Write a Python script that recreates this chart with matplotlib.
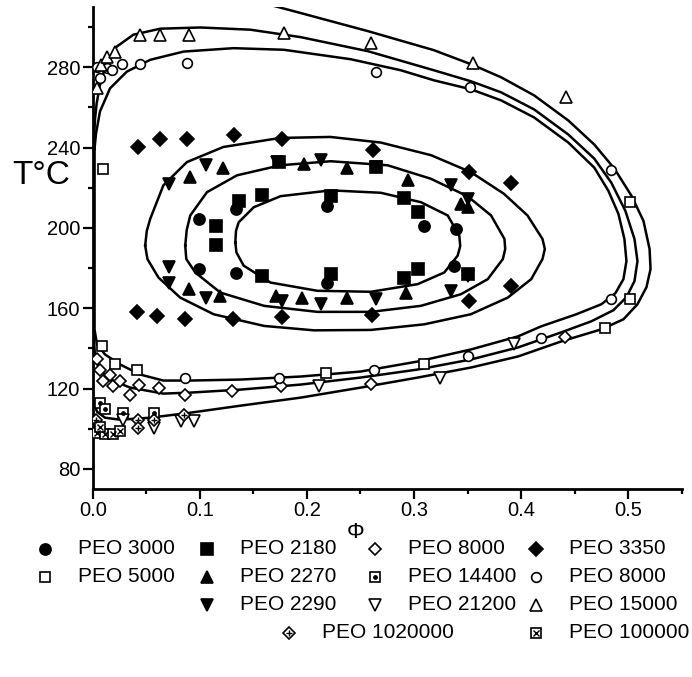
import matplotlib
matplotlib.use("Agg")
import matplotlib.pyplot as plt
from matplotlib.ticker import MultipleLocator, FormatStrFormatter

plt.rcParams['font.family'] = ['Liberation Sans', 'DejaVu Sans']

# ---------------- data (Phi, T in deg C) ----------------
peo3000_phi = [0.219, 0.3096, 0.0989, 0.0989, 0.134, 0.134, 0.219, 0.3392, 0.3377]
peo3000_T   = [210.8, 201.2, 204.5, 179.5, 209.5, 177.8, 172.8, 199.5, 181.2]

peo2180_phi = [0.2222, 0.1582, 0.1363, 0.1154, 0.1154, 0.1582, 0.2222, 0.2909, 0.3034, 0.2909, 0.3034, 0.1738, 0.2644, 0.3502]
peo2180_T   = [215.8, 216.5, 213.2, 201.2, 191.5, 176.2, 177.0, 214.8, 207.8, 175.3, 179.5, 232.8, 230.3, 177.0]

peo2270_phi = [0.0911, 0.1217, 0.1972, 0.2378, 0.294, 0.3439, 0.0895, 0.1192, 0.1707, 0.1957, 0.2378, 0.2924, 0.3502]
peo2270_T   = [225.3, 229.8, 232.0, 229.8, 223.7, 212.0, 169.8, 166.2, 166.2, 165.3, 165.3, 167.8, 210.5]

peo2290_phi = [0.0717, 0.1061, 0.1723, 0.2128, 0.2644, 0.3345, 0.3502, 0.0717, 0.0717, 0.1061, 0.177, 0.2128, 0.2644, 0.3345, 0.3502]
peo2290_T   = [222.0, 231.2, 232.8, 233.7, 230.3, 221.2, 214.5, 180.3, 172.8, 165.3, 163.7, 162.0, 164.5, 168.7, 176.2]

peo3350_phi = [0.0427, 0.0624, 0.088, 0.1323, 0.177, 0.2622, 0.3517, 0.3907,
               0.0418, 0.06, 0.0864, 0.1311, 0.177, 0.2612, 0.3517, 0.3907]
peo3350_T   = [240.3, 244.5, 244.5, 246.2, 244.2, 238.7, 227.8, 222.5,
               158.2, 156.2, 154.8, 154.8, 155.8, 156.5, 163.7, 171.2]

peo5000_phi = [0.0097, 0.0084, 0.0209, 0.0412, 0.2175, 0.3096, 0.478, 0.5015, 0.5015]
peo5000_T   = [229.5, 141.0, 132.0, 129.5, 127.8, 132.0, 150.3, 164.5, 212.8]

peo8000d_phi = [0.0037, 0.0068, 0.0162, 0.010, 0.0193, 0.0256, 0.035, 0.043, 0.0615, 0.0864, 0.130, 0.1755, 0.260, 0.4406]
peo8000d_T   = [134.5, 129.5, 127.0, 123.7, 121.2, 123.7, 117.0, 122.0, 120.3, 117.0, 118.7, 121.2, 122.5, 145.8]

peo14400_phi = [0.0068, 0.0115, 0.0287, 0.0568]
peo14400_T   = [112.8, 110.0, 107.8, 107.8]

peo21200_phi = [0.0287, 0.0568, 0.0824, 0.0949, 0.211, 0.3246, 0.3938]
peo21200_T   = [104.5, 100.3, 103.7, 103.7, 121.2, 125.3, 142.0]

peo1020000_phi = [0.003, 0.0424, 0.0424, 0.0568, 0.0849]
peo1020000_T   = [104.5, 104.5, 100.3, 104.5, 107.0]

peo8000o_phi = [0.004, 0.0068, 0.0131, 0.0178, 0.0272, 0.0443, 0.088, 0.2643, 0.3526, 0.4844,
                0.4844, 0.4188, 0.3502, 0.2627, 0.1738, 0.0864]
peo8000o_T   = [280.0, 274.5, 279.5, 278.7, 281.5, 281.5, 282.0, 277.8, 270.3, 228.7,
                164.5, 145.3, 136.2, 129.5, 125.3, 125.3]

peo15000_phi = [0.0037, 0.008, 0.0131, 0.0209, 0.0443, 0.063, 0.0895, 0.1785, 0.2596, 0.3549, 0.4422]
peo15000_T   = [269.5, 281.0, 285.0, 287.8, 296.2, 296.2, 296.2, 297.0, 292.0, 282.0, 265.3]

peo100000_phi = [0.0037, 0.0115, 0.0193, 0.0068, 0.0256]
peo100000_T   = [98.0, 97.5, 97.5, 101.0, 99.0]

# fitted coexistence curves
loop_in_phi = [0.1332, 0.1338, 0.1363, 0.1504, 0.1754, 0.2222, 0.269, 0.3065, 0.3315, 0.3423, 0.3432, 0.3408, 0.3283,
               0.3034, 0.2597, 0.2097, 0.166, 0.141, 0.1342, 0.1332]
loop_in_T   = [192.8, 198.5, 202.8, 210.3, 215.8, 218.7, 217.5, 212.8, 206.2, 196.2, 191.0, 186.2, 177.8,
               172.0, 168.2, 168.7, 172.8, 181.2, 187.8, 192.8]

loop_mid_phi = [0.0864, 0.0878, 0.0911, 0.1067, 0.1348, 0.1754, 0.2222, 0.2753, 0.3157, 0.3502, 0.372, 0.3845,
                0.3852, 0.383, 0.3689, 0.3439, 0.3065, 0.2597, 0.2097, 0.16, 0.1192, 0.0958, 0.0874, 0.0864]
loop_mid_T   = [191.2, 199.0, 206.2, 217.8, 226.2, 231.2, 233.2, 231.2, 224.5, 215.7, 206.2, 194.5,
                189.5, 184.5, 174.5, 167.0, 161.2, 158.2, 158.2, 161.2, 167.8, 177.8, 184.5, 191.2]

loop_out_phi = [0.049, 0.0505, 0.0537, 0.066, 0.088, 0.122, 0.175, 0.222, 0.269, 0.316, 0.353, 0.384, 0.406, 0.42,
                0.4222, 0.42, 0.4095, 0.3876, 0.353, 0.3096, 0.2597, 0.2066, 0.16, 0.113, 0.0817, 0.0614, 0.0511, 0.049]
loop_out_T   = [191.2, 198.5, 204.5, 221.2, 232.8, 240.3, 244.8, 245.3, 242.5, 236.2, 227.8, 217.0, 206.2, 194.5,
                189.5, 184.5, 174.5, 165.3, 157.0, 152.0, 149.2, 149.0, 151.2, 157.0, 165.3, 175.3, 184.5, 191.2]

big_a_phi = [0.166, 0.1942, 0.2569, 0.3186, 0.3533, 0.3814, 0.4122, 0.4441, 0.4684, 0.4872, 0.5031, 0.5143,
             0.520, 0.5209, 0.5171, 0.5087, 0.4956, 0.475, 0.4376, 0.3972, 0.3533, 0.3037, 0.2503, 0.1942,
             0.1381, 0.0913, 0.0536, 0.0256, 0.0115, 0.004, 0.0003]
big_a_T   = [311.0, 307.0, 298.0, 288.5, 281.5, 275.0, 266.0, 253.5, 241.5, 229.5, 216.0, 203.5,
             189.5, 179.5, 170.5, 162.0, 154.5, 149.5, 143.5, 136.0, 130.5, 125.5, 120.5, 115.5,
             111.5, 108.0, 105.5, 104.5, 105.5, 108.5, 114.5]

big_b_phi = [0.0012, 0.0022, 0.0037, 0.0068, 0.0131, 0.0225, 0.038, 0.063, 0.1005, 0.1473, 0.1941, 0.2569,
             0.3186, 0.3533, 0.3814, 0.4122, 0.4441, 0.4684, 0.4843, 0.4974, 0.5059, 0.5087, 0.5059, 0.4984,
             0.4862, 0.4656, 0.4376, 0.3972, 0.3533, 0.3037, 0.2503, 0.1942, 0.1381, 0.0913, 0.0659, 0.0349,
             0.0162, 0.0068, 0.0022, 0.0012, 0.0012]
big_b_T   = [244.5, 254.5, 262.0, 271.2, 282.8, 290.3, 296.2, 299.2, 299.8, 298.7, 295.0, 288.0,
             278.5, 273.0, 267.5, 259.0, 246.5, 234.5, 222.5, 208.5, 194.5, 183.5, 173.5, 165.5,
             159.0, 153.5, 148.0, 140.5, 134.5, 129.5, 125.5, 122.0, 119.5, 118.0, 117.5, 120.5,
             124.5, 129.5, 135.5, 144.5, 244.5]

big_c_phi = [0.0017, 0.0031, 0.0068, 0.0162, 0.0318, 0.0537, 0.0848, 0.1316, 0.1785, 0.2409, 0.2877, 0.3186,
             0.3533, 0.3814, 0.4122, 0.4441, 0.4684, 0.4815, 0.4909, 0.4965, 0.4984, 0.4956, 0.4881, 0.475,
             0.4516, 0.4188, 0.3972, 0.3533, 0.3037, 0.2503, 0.1942, 0.1381, 0.0913, 0.0659, 0.0443, 0.0256,
             0.0115, 0.004, 0.0017, 0.0017]
big_c_T   = [239.5, 247.0, 258.0, 269.5, 277.8, 283.7, 287.8, 289.5, 288.7, 284.0, 278.5, 273.5,
             269.0, 263.5, 255.0, 242.5, 230.0, 218.5, 207.0, 194.5, 183.5, 174.5, 167.5, 162.0,
             157.0, 151.0, 146.0, 139.5, 133.5, 128.5, 126.0, 124.5, 124.0, 124.0, 127.0, 132.0,
             137.0, 142.0, 149.5, 239.5]

x_ticks = [0.0, 0.1, 0.2, 0.3, 0.4, 0.5]
y_ticks = [80, 120, 160, 200, 240, 280]

# ---------------- figure ----------------
W, H = 692, 677
fig = plt.figure(figsize=(W / 100, H / 100), dpi=100)
ax = fig.add_axes([92.7 / W, 1 - 489 / H, (681.7 - 92.7) / W, (489 - 7) / H])

for cx, cy in [(loop_in_phi, loop_in_T), (loop_mid_phi, loop_mid_T), (loop_out_phi, loop_out_T),
               (big_a_phi, big_a_T), (big_b_phi, big_b_T), (big_c_phi, big_c_T)]:
    ax.plot(cx, cy, color='black', lw=1.8, zorder=2, solid_joinstyle='round')

K = 'black'
W_ = 'white'
series = [
    # (name, phi, T, marker, size, facecolor, overlay marker)
    ('PEO 3000', peo3000_phi, peo3000_T, 'o', 8, K, None),
    ('PEO 5000', peo5000_phi, peo5000_T, 's', 7, W_, None),
    ('PEO 2180', peo2180_phi, peo2180_T, 's', 8, K, None),
    ('PEO 2270', peo2270_phi, peo2270_T, '^', 9, K, None),
    ('PEO 2290', peo2290_phi, peo2290_T, 'v', 9, K, None),
    ('PEO 8000', peo8000d_phi, peo8000d_T, 'D', 6, W_, None),
    ('PEO 14400', peo14400_phi, peo14400_T, 's', 7, W_, '.'),
    ('PEO 21200', peo21200_phi, peo21200_T, 'v', 8, W_, None),
    ('PEO 1020000', peo1020000_phi, peo1020000_T, 'D', 6.5, W_, '+'),
    ('PEO 3350', peo3350_phi, peo3350_T, 'D', 7.5, K, None),
    ('PEO 8000 ', peo8000o_phi, peo8000o_T, 'o', 7, W_, None),
    ('PEO 15000', peo15000_phi, peo15000_T, '^', 9, W_, None),
    ('PEO 100000', peo100000_phi, peo100000_T, 's', 7, W_, 'x'),
]
for name, px, py, m, ms, fc, ov in series:
    ax.plot(px, py, ls='none', marker=m, ms=ms, mfc=fc, mec='black', mew=1.2, zorder=3)
    if ov:
        ax.plot(px, py, ls='none', marker=ov, ms=ms * 0.7, color='black', mew=1.0, zorder=4)

ax.set_xlim(0, 0.55)
ax.set_ylim(70, 310)
ax.set_xticks(x_ticks)
ax.set_yticks(y_ticks)
ax.xaxis.set_major_formatter(FormatStrFormatter('%.1f'))
ax.xaxis.set_minor_locator(MultipleLocator(0.05))
ax.yaxis.set_minor_locator(MultipleLocator(20))
for s in ['top', 'right']:
    ax.spines[s].set_visible(False)
for s in ['left', 'bottom']:
    ax.spines[s].set_linewidth(2.0)
ax.tick_params(which='major', direction='out', length=7, width=1.6, labelsize=14.5, pad=2)
ax.tick_params(which='minor', direction='out', length=3.5, width=1.6)

fig.text(12 / W, 1 - 176 / H, 'T°C', fontsize=24, ha='left', va='center')
fig.text(356 / W, 1 - 533 / H, 'Φ', fontsize=16, ha='center', va='center')

# ---------------- legend block ----------------
lg = fig.add_axes([0, 0, 1, 1], zorder=5)
lg.set_xlim(0, W)
lg.set_ylim(H, 0)
lg.axis('off')
lg.patch.set_alpha(0)

legend_layout = [  # (series index, marker x, row y)
    (0, 45, 549), (2, 207, 549), (5, 375, 549), (9, 536, 549),
    (1, 45, 577), (3, 207, 577), (6, 375, 577), (10, 536, 577),
    (4, 207, 605), (7, 375, 605), (11, 536, 605),
    (8, 289, 633), (12, 536, 633),
]
for idx, mx, my in legend_layout:
    name, _, _, m, ms, fc, ov = series[idx]
    lg.plot([mx], [my], ls='none', marker=m, ms=ms, mfc=fc, mec='black', mew=1.2)
    if ov:
        lg.plot([mx], [my], ls='none', marker=ov, ms=ms * 0.7, color='black', mew=1.0)
    lg.text(mx + 33, my, name.strip(), fontsize=15, ha='left', va='center')

fig.savefig('out.png', dpi=100)
